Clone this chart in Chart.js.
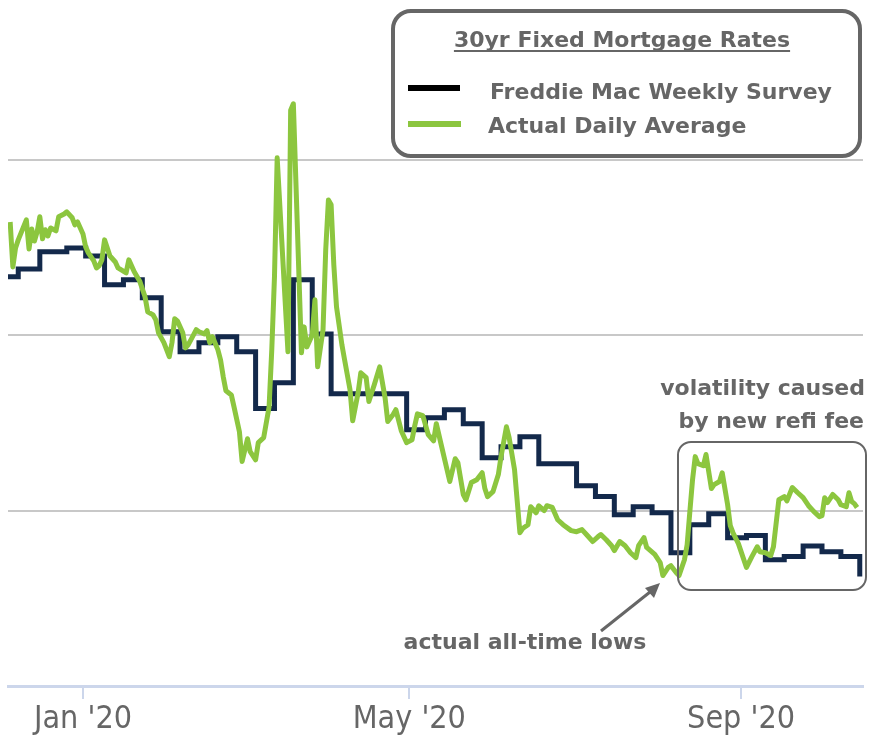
<!DOCTYPE html>
<html><head><meta charset="utf-8">
<script src="https://cdn.jsdelivr.net/npm/chart.js@4.4.1/dist/chart.umd.min.js"></script>
<style>html,body{margin:0;padding:0;background:#fff;}#wrap{width:869px;height:738px;position:relative;}</style>
</head><body><div id="wrap"><canvas id="c" width="869" height="738"></canvas></div>
<script>
// x values are days since 1 Jan 2020; y values are 30yr fixed rates (%)
const tickDays = [0, 121, 244];
const tickLabels = ["Jan '20", "May '20", "Sep '20"];
const gridRates = [3.0, 3.5, 4.0];

const freddieDays = [-28, -24, -16, -6, 1, 8, 15, 22, 29, 36, 43, 50, 57, 64, 71, 78, 85, 92, 99, 106, 113, 120, 127, 134, 141, 148, 155, 162, 169, 176, 183, 190, 197, 204, 211, 218, 225, 232, 239, 246, 253, 260, 267, 274, 281, 288];
const freddieRates = [3.667, 3.689, 3.738, 3.749, 3.726, 3.644, 3.658, 3.607, 3.510, 3.453, 3.479, 3.496, 3.453, 3.291, 3.365, 3.658, 3.504, 3.333, 3.333, 3.333, 3.333, 3.231, 3.265, 3.288, 3.248, 3.151, 3.182, 3.211, 3.134, 3.134, 3.071, 3.040, 2.988, 3.011, 2.994, 2.880, 2.960, 2.991, 2.923, 2.929, 2.860, 2.869, 2.899, 2.883, 2.869, 2.812];

const dailyDays = [-27, -26, -25, -24, -21, -20, -19, -18, -17, -16, -15, -14, -13, -12, -10, -9, -7, -6, -4, -3, -2, 0, 1, 2, 4, 5, 6, 7, 8, 10, 12, 13, 16, 17, 19, 21, 23, 24, 26, 27, 28, 30, 32, 33, 34, 35, 37, 38, 39, 40, 42, 43, 45, 46, 47, 48, 50, 51, 52, 53, 55, 56, 58, 59, 61, 62, 64, 65, 67, 69, 70, 71, 72, 76, 77, 78, 81, 82, 83, 85, 86, 87, 89, 90, 91, 92, 93, 94, 96, 97, 99, 100, 102, 103, 105, 106, 108, 110, 112, 113, 115, 116, 118, 120, 122, 123, 124, 126, 128, 130, 131, 133, 136, 138, 139, 141, 142, 144, 146, 148, 149, 150, 152, 154, 155, 157, 158, 160, 162, 163, 165, 166, 168, 169, 171, 172, 174, 176, 178, 181, 183, 185, 187, 189, 191, 192, 194, 196, 197, 199, 201, 203, 205, 206, 208, 209, 212, 214, 215, 217, 218, 220, 221, 223, 224, 225, 226, 227, 228, 230, 231, 233, 234, 236, 237, 239, 240, 241, 243, 246, 248, 250, 251, 253, 255, 256, 258, 260, 261, 263, 265, 267, 269, 271, 273, 274, 275, 276, 278, 280, 281, 283, 284, 285, 286, 287];
const dailyRates = [3.823, 3.695, 3.749, 3.772, 3.829, 3.746, 3.803, 3.769, 3.795, 3.838, 3.775, 3.801, 3.783, 3.806, 3.798, 3.838, 3.846, 3.852, 3.835, 3.815, 3.823, 3.789, 3.752, 3.735, 3.712, 3.692, 3.698, 3.715, 3.772, 3.726, 3.709, 3.692, 3.678, 3.715, 3.681, 3.655, 3.610, 3.567, 3.558, 3.544, 3.507, 3.479, 3.439, 3.479, 3.547, 3.541, 3.507, 3.464, 3.473, 3.487, 3.516, 3.510, 3.504, 3.513, 3.479, 3.496, 3.459, 3.430, 3.382, 3.342, 3.330, 3.296, 3.225, 3.140, 3.205, 3.168, 3.145, 3.194, 3.208, 3.296, 3.459, 3.667, 4.006, 3.453, 4.142, 4.160, 3.450, 3.524, 3.467, 3.501, 3.601, 3.410, 3.516, 3.744, 3.886, 3.872, 3.701, 3.581, 3.473, 3.430, 3.345, 3.256, 3.336, 3.393, 3.379, 3.311, 3.359, 3.410, 3.322, 3.254, 3.274, 3.288, 3.228, 3.194, 3.202, 3.242, 3.276, 3.271, 3.217, 3.199, 3.248, 3.182, 3.083, 3.148, 3.137, 3.046, 3.031, 3.080, 3.088, 3.108, 3.063, 3.040, 3.054, 3.103, 3.154, 3.239, 3.208, 3.117, 2.937, 2.949, 2.960, 3.011, 2.994, 3.014, 3.000, 3.014, 3.009, 2.974, 2.960, 2.943, 2.940, 2.946, 2.929, 2.912, 2.926, 2.932, 2.917, 2.900, 2.886, 2.912, 2.900, 2.880, 2.866, 2.900, 2.923, 2.895, 2.875, 2.852, 2.815, 2.838, 2.843, 2.823, 2.815, 2.860, 2.903, 2.997, 3.088, 3.154, 3.134, 3.128, 3.160, 3.063, 3.074, 3.083, 3.108, 3.017, 2.957, 2.937, 2.906, 2.838, 2.869, 2.897, 2.883, 2.880, 2.872, 2.897, 3.031, 3.040, 3.028, 3.066, 3.051, 3.037, 3.014, 2.997, 2.983, 2.986, 3.037, 3.023, 3.046, 3.031, 3.017, 3.011, 3.051, 3.026, 3.020, 3.009];

const legendTitle = '30yr Fixed Mortgage Rates';
const seriesNames = ['Freddie Mac Weekly Survey', 'Actual Daily Average'];
const noteVolatility = ['volatility caused', 'by new refi fee'];
const noteLows = 'actual all-time lows';

const NAVY = '#13294b';
const GREEN = '#8cc63f';
const TEXT = '#666666';
const BOLD = "bold 22px 'DejaVu Sans', Verdana, sans-serif";

function rr(ctx, x, y, w, h, r) {
  ctx.beginPath();
  ctx.moveTo(x + r, y);
  ctx.lineTo(x + w - r, y);
  ctx.arcTo(x + w, y, x + w, y + r, r);
  ctx.lineTo(x + w, y + h - r);
  ctx.arcTo(x + w, y + h, x + w - r, y + h, r);
  ctx.lineTo(x + r, y + h);
  ctx.arcTo(x, y + h, x, y + h - r, r);
  ctx.lineTo(x, y + r);
  ctx.arcTo(x, y, x + r, y, r);
  ctx.closePath();
}

const overlay = {
  id: 'overlay',
  afterDraw(chart) {
    const ctx = chart.ctx;
    ctx.save();
    // legend box
    rr(ctx, 393, 11, 467, 145, 18);
    ctx.fillStyle = '#ffffff';
    ctx.fill();
    ctx.lineWidth = 4;
    ctx.strokeStyle = '#666666';
    ctx.stroke();
    ctx.font = BOLD;
    ctx.fillStyle = TEXT;
    ctx.textBaseline = 'alphabetic';
    ctx.textAlign = 'center';
    ctx.fillText(legendTitle, 622, 47);
    const tw = ctx.measureText(legendTitle).width;
    ctx.fillRect(622 - tw / 2, 50, tw, 2);
    ctx.textAlign = 'left';
    ctx.fillText(seriesNames[0], 490, 99);
    ctx.fillText(seriesNames[1], 488, 133);
    ctx.lineWidth = 6;
    ctx.lineCap = 'butt';
    ctx.strokeStyle = '#000000';
    ctx.beginPath(); ctx.moveTo(408, 88); ctx.lineTo(460, 88); ctx.stroke();
    ctx.strokeStyle = GREEN;
    ctx.beginPath(); ctx.moveTo(408, 124); ctx.lineTo(461, 124); ctx.stroke();
    // volatility note
    ctx.fillStyle = TEXT;
    ctx.textAlign = 'right';
    ctx.fillText(noteVolatility[0], 865, 395);
    ctx.fillText(noteVolatility[1], 864, 428);
    rr(ctx, 678, 442, 188, 148, 13);
    ctx.lineWidth = 2;
    ctx.strokeStyle = '#666666';
    ctx.stroke();
    // lows note
    ctx.textAlign = 'center';
    ctx.fillText(noteLows, 525, 649);
    ctx.strokeStyle = '#666666';
    ctx.lineWidth = 3;
    ctx.beginPath(); ctx.moveTo(601, 631); ctx.lineTo(650, 592); ctx.stroke();
    ctx.fillStyle = '#666666';
    ctx.beginPath();
    ctx.moveTo(660, 583);
    ctx.lineTo(645, 588);
    ctx.lineTo(654, 598);
    ctx.closePath();
    ctx.fill();
    ctx.restore();
  }
};

new Chart(document.getElementById('c'), {
  type: 'line',
  data: {
    datasets: [
      {
        label: seriesNames[1],
        data: dailyDays.map((d, i) => ({ x: d, y: dailyRates[i] })),
        borderColor: GREEN,
        borderWidth: 5,
        pointRadius: 0,
        tension: 0,
        borderJoinStyle: 'round',
        fill: false
      },
      {
        label: seriesNames[0],
        data: freddieDays.map((d, i) => ({ x: d, y: freddieRates[i] })),
        borderColor: NAVY,
        borderWidth: 5,
        pointRadius: 0,
        stepped: 'before',
        borderJoinStyle: 'miter',
        fill: false
      }
    ]
  },
  options: {
    responsive: false,
    animation: false,
    devicePixelRatio: 1,
    layout: { padding: { left: 8, right: 6, top: 0, bottom: 0 } },
    plugins: { legend: { display: false }, tooltip: { enabled: false } },
    scales: {
      x: {
        type: 'linear',
        min: -27.8,
        max: 289.2,
        afterBuildTicks: s => { s.ticks = tickDays.map(v => ({ value: v })); },
        afterFit: s => { s.height = 52; },
        grid: { drawOnChartArea: false, drawTicks: true, tickLength: 13, color: '#ccd6eb', lineWidth: 2 },
        border: { display: true, color: '#ccd6eb', width: 3 },
        ticks: {
          autoSkip: false, maxRotation: 0, padding: 5, color: TEXT,
          font: { family: "'DejaVu Sans Condensed', 'Liberation Sans Narrow', sans-serif", size: 32, lineHeight: 1 },
          callback: (v, i) => tickLabels[i]
        }
      },
      y: {
        min: 2.5,
        max: 4.456,
        afterBuildTicks: s => { s.ticks = gridRates.map(v => ({ value: v })); },
        afterFit: s => { s.width = 0; },
        grid: { color: '#c8c8c8', lineWidth: 2, drawTicks: false },
        border: { display: false },
        ticks: { display: false }
      }
    }
  },
  plugins: [overlay]
});
</script>
</body></html>
